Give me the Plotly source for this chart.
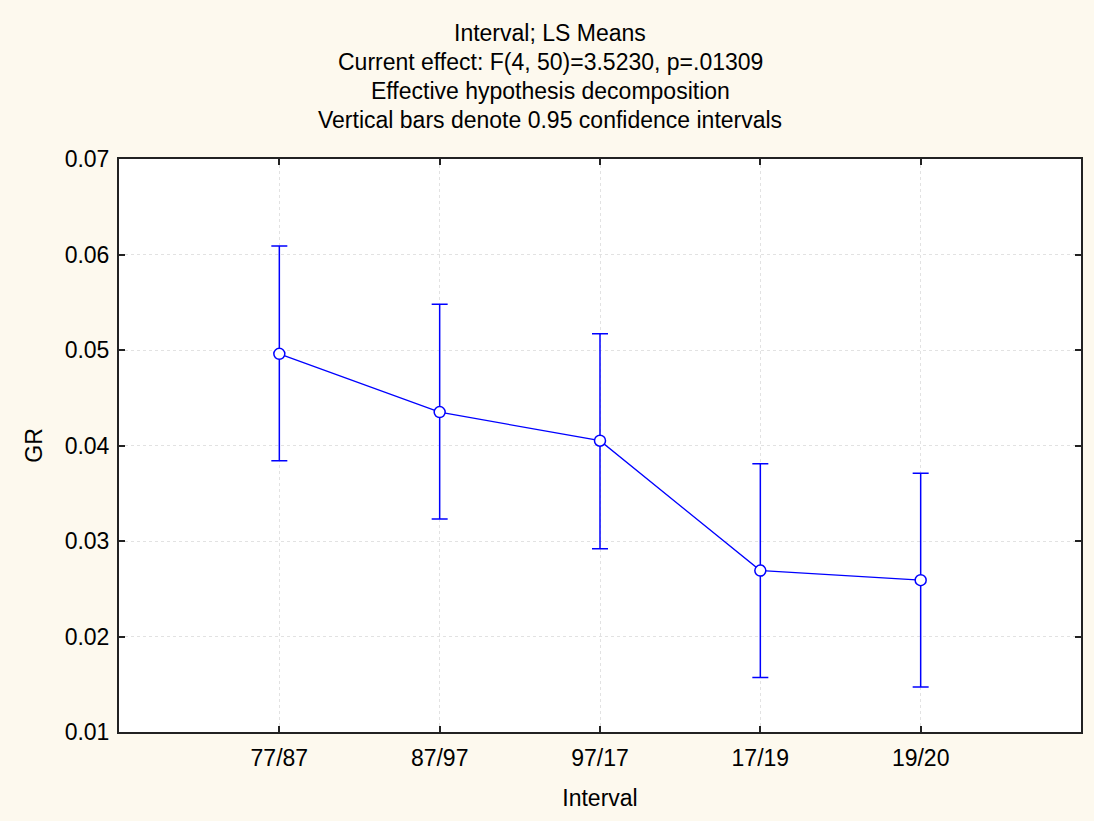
import plotly.graph_objects as go

# LS means of GR by interval with 95% confidence limits
intervals = ["77/87", "87/97", "97/17", "17/19", "19/20"]
gr_mean = [0.0496, 0.0435, 0.0405, 0.0269, 0.0259]
gr_upper = [0.0609, 0.0548, 0.0517, 0.0381, 0.0371]
gr_lower = [0.0384, 0.0323, 0.0292, 0.0157, 0.0147]

y_ticks = [0.01, 0.02, 0.03, 0.04, 0.05, 0.06, 0.07]

title_lines = [
    "Interval; LS Means",
    "Current effect: F(4, 50)=3.5230, p=.01309",
    "Effective hypothesis decomposition",
    "Vertical bars denote 0.95 confidence intervals",
]

err_plus = [u - m for u, m in zip(gr_upper, gr_mean)]
err_minus = [m - l for m, l in zip(gr_mean, gr_lower)]
xpos = list(range(len(intervals)))

blue = "#0000FF"
font_family = "Liberation Sans, Arial, sans-serif"
fs = 23

fig = go.Figure()
fig.add_trace(go.Scatter(
    x=xpos, y=gr_mean,
    mode="lines+markers",
    line=dict(color=blue, width=1.3),
    marker=dict(symbol="circle", size=11, color="white",
                line=dict(color=blue, width=1.5)),
    error_y=dict(type="data", symmetric=False, array=err_plus,
                 arrayminus=err_minus, color=blue, thickness=1.5, width=8),
    showlegend=False,
))

# header lines, one annotation each, centred on the page
top_px, plot_h = 159, 573
for i, line in enumerate(title_lines):
    centre_px = 33 + 29 * i
    fig.add_annotation(
        text=line, xref="paper", yref="paper",
        x=(550 - 119) / 962, y=1 + (top_px - centre_px) / plot_h,
        xanchor="center", yanchor="middle", showarrow=False,
        font=dict(size=fs, family=font_family, color="black"),
    )

axis_common = dict(
    ticks="inside", ticklen=6, tickcolor="#222", tickwidth=1.5,
    showline=True, linecolor="#222", linewidth=2, mirror="ticks",
    showgrid=True, gridcolor="#E2E2E2", griddash="dot", gridwidth=1,
    zeroline=False, tickfont=dict(size=fs),
)

fig.update_layout(
    width=1094, height=821,
    paper_bgcolor="#FDF9EE",
    plot_bgcolor="white",
    margin=dict(l=119, r=13, t=159, b=89),
    font=dict(family=font_family, size=fs, color="black"),
    xaxis=dict(
        range=[-1, 5],
        tickmode="array", tickvals=xpos, ticktext=intervals,
        ticklabelstandoff=4,
        title=dict(text="Interval", standoff=20, font=dict(size=fs)),
        **axis_common,
    ),
    yaxis=dict(
        range=[0.01, 0.07],
        tickmode="array", tickvals=y_ticks,
        ticktext=[f"{v:.2f}" for v in y_ticks],
        ticklabelstandoff=3,
        title=dict(text="GR", standoff=16, font=dict(size=fs)),
        **axis_common,
    ),
)

fig.write_html("out.html")
